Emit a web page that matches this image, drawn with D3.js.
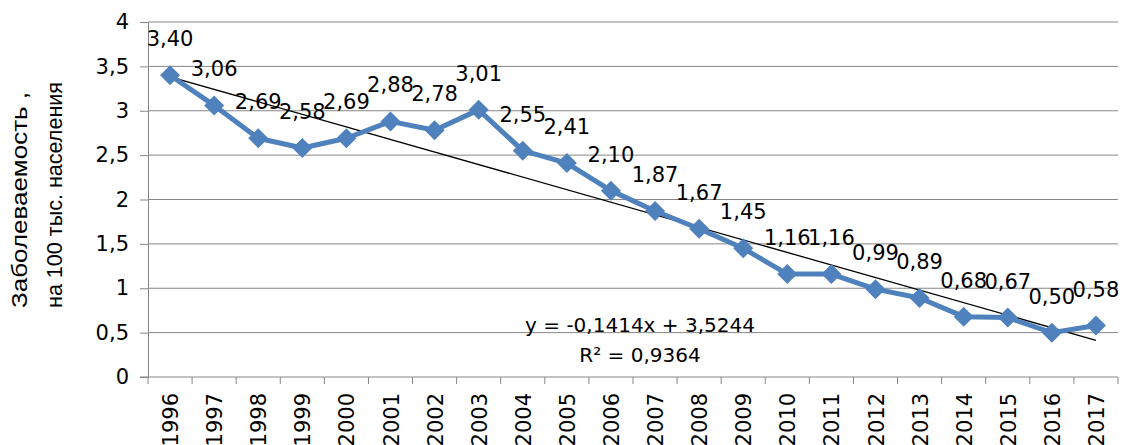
<!DOCTYPE html>
<html>
<head>
<meta charset="utf-8">
<script src="https://cdn.jsdelivr.net/npm/d3@7"></script>
<style>
  body { margin: 0; background: #fff; }
  svg text { font-family: "DejaVu Sans", "Liberation Sans", Arial, sans-serif; fill: #000; }
</style>
</head>
<body>
<div id="figure"></div>
<script>
// data
const years = ["1996","1997","1998","1999","2000","2001","2002","2003","2004","2005","2006",
               "2007","2008","2009","2010","2011","2012","2013","2014","2015","2016","2017"];
const values = [3.40, 3.06, 2.69, 2.58, 2.69, 2.88, 2.78, 3.01, 2.55, 2.41, 2.10,
                1.87, 1.67, 1.45, 1.16, 1.16, 0.99, 0.89, 0.68, 0.67, 0.50, 0.58];
const yTicks = [0, 0.5, 1, 1.5, 2, 2.5, 3, 3.5, 4];
const trendSlope = -0.1414, trendIntercept = 3.5244;
const trendText = ["y = -0,1414x + 3,5244", "R\u00b2 = 0,9364"];
const yTitle = ["Заболеваемость ,", "на 100 тыс. населения"];

const W = 1123, H = 445;
const margin = {top: 22, right: 5, bottom: 68, left: 148};
const width = W - margin.left - margin.right,
      height = H - margin.top - margin.bottom;

const fmt = v => String(v).replace(".", ",");
const fmt2 = v => v.toFixed(2).replace(".", ",");

const svg = d3.select("#figure").append("svg")
    .attr("width", W).attr("height", H);
const g = svg.append("g").attr("transform", `translate(${margin.left},${margin.top})`);

const x = d3.scaleBand().domain(years).range([0, width]);
const y = d3.scaleLinear().domain([0, 4]).range([height, 0]);
const cx = d => x(d) + x.bandwidth() / 2;

// grid lines
g.selectAll(".grid").data(yTicks.filter(t => t > 0)).join("line")
    .attr("x1", 0).attr("x2", width)
    .attr("y1", d => y(d)).attr("y2", d => y(d))
    .attr("stroke", "#868686").attr("stroke-width", 1);

// y axis
const yAxis = g.append("g").call(d3.axisLeft(y).tickValues(yTicks).tickFormat(fmt).tickSize(8).tickPadding(11));
yAxis.select(".domain").attr("stroke", "#868686");
yAxis.selectAll(".tick line").attr("stroke", "#868686");
yAxis.selectAll("text").attr("font-size", 21).attr("font-family", "DejaVu Sans");

// x axis: ticks between categories
const xg = g.append("g").attr("transform", `translate(0,${height})`);
xg.append("line").attr("x1", -8).attr("x2", width).attr("stroke", "#868686");
xg.selectAll(".xt").data(d3.range(years.length + 1)).join("line")
    .attr("x1", i => i * x.step()).attr("x2", i => i * x.step())
    .attr("y1", 0).attr("y2", 7).attr("stroke", "#868686");
xg.selectAll(".xl").data(years).join("text")
    .attr("transform", d => `translate(${cx(d) + 8},16) rotate(-90)`)
    .attr("text-anchor", "end")
    .attr("font-size", 21)
    .text(d => d);

// trend line
const tx = [1, years.length];
g.append("line")
    .attr("x1", cx(years[0])).attr("y1", y(trendSlope * tx[0] + trendIntercept))
    .attr("x2", cx(years[years.length - 1])).attr("y2", y(trendSlope * tx[1] + trendIntercept))
    .attr("stroke", "#000").attr("stroke-width", 1.3);

// series line
g.append("path").datum(values)
    .attr("fill", "none").attr("stroke", "#4F81BD").attr("stroke-width", 5)
    .attr("stroke-linejoin", "round")
    .attr("d", d3.line().x((d, i) => cx(years[i])).y(d => y(d)));

// diamonds
g.selectAll(".pt").data(values).join("path")
    .attr("transform", (d, i) => `translate(${cx(years[i])},${y(d)})`)
    .attr("d", "M0,-10L10,0L0,10L-10,0Z")
    .attr("fill", "#4F81BD");

// data labels
g.selectAll(".lbl").data(values).join("text")
    .attr("x", (d, i) => cx(years[i]))
    .attr("y", d => y(d) - 29)
    .attr("text-anchor", "middle")
    .attr("font-size", 21)
    .text(fmt2);

// trend equation
g.selectAll(".eq").data(trendText).join("text")
    .attr("x", 640 - margin.left)
    .attr("y", (d, i) => 332 - margin.top + i * 30)
    .attr("text-anchor", "middle")
    .attr("font-size", 20)
    .text(d => d);

// y title
svg.selectAll(".yt").data(yTitle).join("text")
    .attr("transform", (d, i) => `translate(${[27, 62][i]},308) rotate(-90)`)
    .attr("text-anchor", "start")
    .style("font-family", "'Liberation Sans', Arial, sans-serif")
    .attr("font-size", 22)
    .attr("textLength", (d, i) => [216, 226][i])
    .attr("lengthAdjust", "spacingAndGlyphs")
    .text(d => d);
</script>
</body>
</html>
